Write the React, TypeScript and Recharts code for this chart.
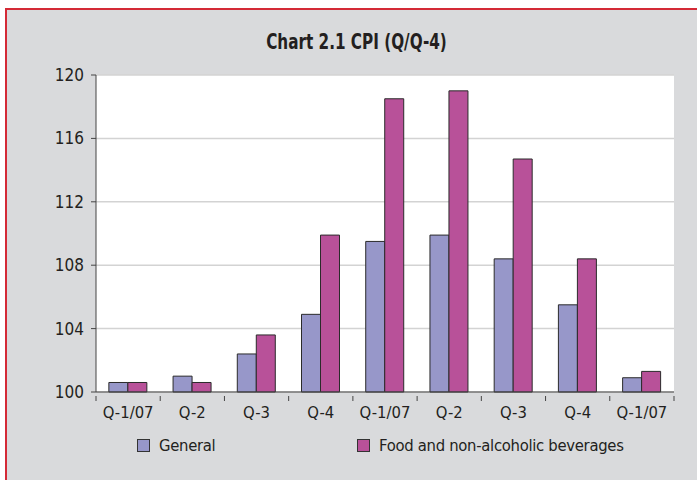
import { Bar, BarChart, CartesianGrid, XAxis, YAxis } from "recharts";

const quarters = ["Q-1/07", "Q-2", "Q-3", "Q-4", "Q-1/07", "Q-2", "Q-3", "Q-4", "Q-1/07"];
const general = [100.6, 101.0, 102.4, 104.9, 109.5, 109.9, 108.4, 105.5, 100.9];
const food = [100.6, 100.6, 103.6, 109.9, 118.5, 119.0, 114.7, 108.4, 101.3];
const yTicks = [100, 104, 108, 112, 116, 120];

const data = quarters.map((q, i) => ({ q, general: general[i], food: food[i] }));

const FONT = '"DejaVu Sans Condensed", "Liberation Sans Narrow", sans-serif';
const TEXT = "#231f20";
const GENERAL = "#9797c9";
const FOOD = "#b85199";

// category label plus the short tick marks sitting on the band edges
const QuarterTick = (props: any) => {
  const { x, y, payload, index, width } = props;
  const band = width / quarters.length;
  const left = x - band / 2;
  return (
    <g>
      <line x1={left} x2={left} y1={y - 10} y2={y - 5} stroke="#444" />
      {index === quarters.length - 1 && (
        <line x1={left + band} x2={left + band} y1={y - 10} y2={y - 5} stroke="#444" />
      )}
      <text x={x} y={y} dy="0.71em" textAnchor="middle" fill={TEXT} fontSize={16.5} fontFamily={FONT}>
        {payload.value}
      </text>
    </g>
  );
};

const LegendBox = ({ color, label, left }: { color: string; label: string; left: number }) => (
  <div style={{ position: "absolute", left, top: 436, display: "flex", alignItems: "center" }}>
    <span style={{ width: 11, height: 11, background: color, border: "1px solid #333", marginRight: 9 }} />
    <span style={{ fontFamily: FONT, fontSize: 16.5, color: TEXT, letterSpacing: -0.3 }}>{label}</span>
  </div>
);

export default function App() {
  return (
    <div style={{ position: "fixed", left: 0, top: 0, width: 697, height: 480, overflow: "hidden", background: "#fff" }}>
      <div
        style={{
          position: "absolute",
          left: 5,
          top: 8,
          width: 720,
          height: 500,
          background: "#d9dadc",
          borderLeft: "2px solid #d42a36",
          borderTop: "2px solid #d42a36",
        }}
      />
      <div
        style={{
          position: "absolute",
          left: 0,
          width: 713,
          top: 29,
          textAlign: "center",
          fontFamily: FONT,
          fontWeight: "bold",
          fontSize: 22,
          color: TEXT,
          transform: "scaleX(0.77)",
        }}
      >
        Chart 2.1 CPI (Q/Q-4)
      </div>
      <div style={{ position: "absolute", left: 0, top: 0 }}>
        <BarChart
          width={697}
          height={480}
          data={data}
          margin={{ top: 75, right: 23, bottom: 58, left: 0 }}
          barCategoryGap="20%"
          barGap={0}
        >
          <CartesianGrid vertical={false} fill="#ffffff" stroke="#d3d3d3" strokeWidth={1.5} />
          <XAxis
            dataKey="q"
            height={30}
            tickLine={false}
            axisLine={{ stroke: "#444" }}
            tick={<QuarterTick />}
            tickMargin={8}
            interval={0}
          />
          <YAxis
            domain={[100, 120]}
            ticks={yTicks}
            width={96}
            tickSize={5}
            tickMargin={7}
            axisLine={{ stroke: "#444" }}
            tickLine={{ stroke: "#444" }}
            tick={{ fill: TEXT, fontSize: 17, fontFamily: FONT }}
          />
          <Bar dataKey="general" fill={GENERAL} stroke="#2b2b2b" strokeWidth={1} isAnimationActive={false} />
          <Bar dataKey="food" fill={FOOD} stroke="#2b2b2b" strokeWidth={1} isAnimationActive={false} />
        </BarChart>
      </div>
      <LegendBox color={GENERAL} label="General" left={137} />
      <LegendBox color={FOOD} label="Food and non-alcoholic beverages" left={357} />
    </div>
  );
}
